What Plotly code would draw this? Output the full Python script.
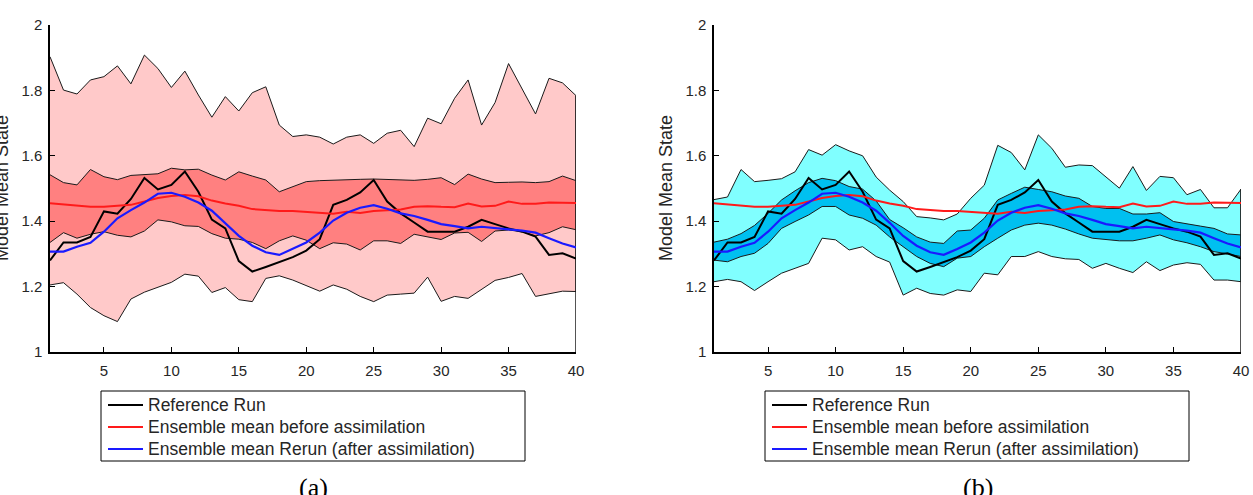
import plotly.graph_objects as go

W, H = 1253, 495

steps = list(range(1, 41))

# Shared series
reference_run = [1.280, 1.335, 1.335, 1.352, 1.430, 1.423, 1.468, 1.532, 1.497, 1.511,
                 1.552, 1.490, 1.405, 1.378, 1.278, 1.246, 1.260, 1.274, 1.290, 1.310,
                 1.345, 1.450, 1.465, 1.488, 1.526, 1.460, 1.424, 1.396, 1.368, 1.368,
                 1.368, 1.383, 1.404, 1.391, 1.378, 1.368, 1.353, 1.297, 1.302, 1.286]
mean_before = [1.455, 1.452, 1.447, 1.444, 1.444, 1.446, 1.450, 1.460, 1.471, 1.477,
               1.480, 1.476, 1.463, 1.454, 1.447, 1.437, 1.433, 1.431, 1.431, 1.429,
               1.425, 1.423, 1.429, 1.425, 1.431, 1.434, 1.436, 1.444, 1.446, 1.444,
               1.443, 1.454, 1.445, 1.447, 1.460, 1.453, 1.453, 1.457, 1.456, 1.456]
mean_rerun = [1.307, 1.307, 1.322, 1.334, 1.368, 1.409, 1.434, 1.457, 1.484, 1.487,
              1.475, 1.457, 1.432, 1.395, 1.355, 1.325, 1.305, 1.297, 1.315, 1.335,
              1.365, 1.402, 1.426, 1.441, 1.449, 1.438, 1.424, 1.416, 1.404, 1.391,
              1.385, 1.378, 1.383, 1.380, 1.375, 1.371, 1.365, 1.348, 1.332, 1.320]

# Panel (a): ensemble spread before assimilation
prior_max = [1.903, 1.801, 1.789, 1.832, 1.842, 1.875, 1.820, 1.908, 1.867, 1.809,
             1.859, 1.786, 1.718, 1.781, 1.737, 1.793, 1.811, 1.694, 1.659, 1.664,
             1.657, 1.636, 1.657, 1.664, 1.638, 1.669, 1.678, 1.628, 1.715, 1.698,
             1.776, 1.832, 1.694, 1.763, 1.882, 1.803, 1.728, 1.837, 1.823, 1.784]
prior_qhi = [1.542, 1.518, 1.511, 1.558, 1.536, 1.527, 1.540, 1.543, 1.545, 1.562,
             1.557, 1.559, 1.541, 1.526, 1.551, 1.538, 1.526, 1.490, 1.506, 1.521,
             1.524, 1.526, 1.526, 1.528, 1.529, 1.528, 1.527, 1.525, 1.528, 1.533,
             1.512, 1.544, 1.529, 1.518, 1.519, 1.520, 1.518, 1.521, 1.538, 1.524]
prior_qlo = [1.335, 1.365, 1.348, 1.360, 1.368, 1.357, 1.352, 1.370, 1.404, 1.398,
             1.386, 1.384, 1.362, 1.348, 1.345, 1.335, 1.316, 1.340, 1.355, 1.342,
             1.316, 1.334, 1.330, 1.312, 1.340, 1.340, 1.332, 1.360, 1.352, 1.344,
             1.364, 1.366, 1.338, 1.370, 1.373, 1.368, 1.355, 1.365, 1.383, 1.374]
prior_min = [1.205, 1.212, 1.177, 1.136, 1.111, 1.093, 1.162, 1.183, 1.199, 1.213,
             1.238, 1.232, 1.182, 1.197, 1.160, 1.154, 1.225, 1.233, 1.220, 1.202,
             1.186, 1.205, 1.192, 1.170, 1.154, 1.174, 1.177, 1.180, 1.229, 1.155,
             1.170, 1.164, 1.192, 1.219, 1.228, 1.240, 1.170, 1.178, 1.186, 1.185]

# Panel (b): ensemble spread of rerun after assimilation
post_max = [1.466, 1.474, 1.558, 1.521, 1.525, 1.530, 1.551, 1.619, 1.602, 1.634,
            1.615, 1.600, 1.535, 1.495, 1.460, 1.414, 1.410, 1.404, 1.422, 1.470,
            1.510, 1.632, 1.610, 1.557, 1.664, 1.623, 1.565, 1.572, 1.570, 1.535,
            1.501, 1.567, 1.494, 1.537, 1.533, 1.481, 1.497, 1.441, 1.441, 1.498]
post_qhi = [1.336, 1.345, 1.362, 1.387, 1.424, 1.465, 1.493, 1.518, 1.531, 1.524,
            1.506, 1.498, 1.462, 1.405, 1.380, 1.352, 1.336, 1.332, 1.370, 1.373,
            1.409, 1.465, 1.485, 1.504, 1.497, 1.490, 1.477, 1.470, 1.445, 1.439,
            1.439, 1.422, 1.422, 1.426, 1.399, 1.391, 1.385, 1.378, 1.361, 1.358]
post_qlo = [1.281, 1.276, 1.292, 1.302, 1.332, 1.378, 1.399, 1.419, 1.445, 1.445,
            1.419, 1.409, 1.388, 1.352, 1.322, 1.292, 1.271, 1.261, 1.287, 1.292,
            1.322, 1.348, 1.373, 1.388, 1.394, 1.388, 1.376, 1.361, 1.348, 1.345,
            1.340, 1.340, 1.348, 1.358, 1.343, 1.334, 1.322, 1.307, 1.300, 1.292]
post_min = [1.215, 1.222, 1.215, 1.188, 1.215, 1.241, 1.256, 1.271, 1.348, 1.343,
            1.312, 1.322, 1.292, 1.275, 1.174, 1.195, 1.179, 1.174, 1.190, 1.185,
            1.241, 1.236, 1.292, 1.292, 1.307, 1.292, 1.285, 1.283, 1.256, 1.271,
            1.256, 1.243, 1.276, 1.249, 1.266, 1.273, 1.268, 1.220, 1.220, 1.215]

x_ticks = [5, 10, 15, 20, 25, 30, 35, 40]
y_ticks = [1, 1.2, 1.4, 1.6, 1.8, 2]
y_tick_text = ["1", "1.2", "1.4", "1.6", "1.8", "2"]
y_min, y_max = 1, 2

legend_names = ["Reference Run", "Ensemble mean before assimilation",
                "Ensemble mean Rerun (after assimilation)"]
line_colors = ["#000000", "#ff1a1a", "#1a1aff"]

FONT = "Liberation Sans, Arial, sans-serif"
TXT = "#262626"


def pxx(p):
    return p / W


def pxy(p):
    return 1 - p / H


fig = go.Figure()

panels = [
    dict(xa="x", ya="y", dom=(50, 576),
         bands=[(prior_max, prior_min, "rgb(255,201,201)"),
                (prior_qhi, prior_qlo, "rgb(255,128,128)")],
         outer=prior_max, caption="(a)"),
    dict(xa="x2", ya="y2", dom=(714, 1241),
         bands=[(post_max, post_min, "rgb(128,255,255)"),
                (post_qhi, post_qlo, "rgb(0,192,240)")],
         outer=post_max, caption="(b)"),
]

for pn in panels:
    for hi, lo, col in pn["bands"]:
        fig.add_trace(go.Scatter(
            x=steps + steps[::-1], y=hi + lo[::-1], mode="lines", fill="toself",
            fillcolor=col, line=dict(color="#1a1a1a", width=1),
            xaxis=pn["xa"], yaxis=pn["ya"], showlegend=False, hoverinfo="skip"))
    # right-edge line of the area at the last step
    fig.add_trace(go.Scatter(
        x=[steps[-1], steps[-1]], y=[pn["outer"][-1], y_min], mode="lines",
        line=dict(color="#1a1a1a", width=1.5), xaxis=pn["xa"], yaxis=pn["ya"],
        showlegend=False, hoverinfo="skip"))
    for series, col, name, w in zip([reference_run, mean_before, mean_rerun],
                                    line_colors, legend_names, [2, 2, 2.2]):
        fig.add_trace(go.Scatter(
            x=steps, y=series, mode="lines", line=dict(color=col, width=w),
            name=name, xaxis=pn["xa"], yaxis=pn["ya"], showlegend=False))

axis_common = dict(showgrid=False, zeroline=False, showline=True, linecolor="#000000",
                   linewidth=1.5, ticks="inside", ticklen=5, tickcolor="#000000",
                   tickwidth=1, automargin=False,
                   tickfont=dict(family=FONT, size=15, color=TXT))

y_dom = [pxy(352), pxy(25)]
fig.update_layout(
    template="none",
    width=W, height=H, margin=dict(l=0, r=0, t=0, b=0, pad=0),
    paper_bgcolor="white", plot_bgcolor="white", showlegend=False,
    xaxis=dict(domain=[pxx(50), pxx(576)], range=[1, 40], tickvals=x_ticks,
               anchor="y", ticklabelstandoff=4, **axis_common),
    yaxis=dict(domain=y_dom, range=[y_min, y_max], tickvals=y_ticks, ticktext=y_tick_text,
               anchor="x", ticklabelstandoff=3, **axis_common),
    xaxis2=dict(domain=[pxx(714), pxx(1241)], range=[1, 40], tickvals=x_ticks,
                anchor="y2", ticklabelstandoff=4, **axis_common),
    yaxis2=dict(domain=y_dom, range=[y_min, y_max], tickvals=y_ticks, ticktext=y_tick_text,
                anchor="x2", ticklabelstandoff=3, **axis_common),
)

shapes = []
annotations = []
for pn in panels:
    left, right = pn["dom"]
    off = left - 50
    # y-axis title (clipped at the figure edge in panel (a), as in the original)
    annotations.append(dict(text="Model Mean State", textangle=-90, x=pxx(left - 48),
                            y=pxy(188), xref="paper", yref="paper", showarrow=False,
                            xanchor="center", yanchor="middle",
                            font=dict(family=FONT, size=18, color=TXT)))
    # legend box
    bx0, bx1, by0, by1 = 101 + off, 525 + off, 391, 461
    shapes.append(dict(type="rect", xref="paper", yref="paper",
                       x0=pxx(bx0), x1=pxx(bx1), y0=pxy(by1), y1=pxy(by0),
                       line=dict(color="#000000", width=1), fillcolor="white"))
    for i, (name, col) in enumerate(zip(legend_names, line_colors)):
        yy = 405 + i * 22
        shapes.append(dict(type="line", xref="paper", yref="paper",
                           x0=pxx(108 + off), x1=pxx(143 + off), y0=pxy(yy), y1=pxy(yy),
                           line=dict(color=col, width=2)))
        annotations.append(dict(text=name, x=pxx(146 + off), y=pxy(yy), xref="paper",
                                yref="paper", showarrow=False, xanchor="left",
                                yanchor="middle",
                                font=dict(family=FONT, size=17.5, color=TXT)))
    # caption
    annotations.append(dict(text=pn["caption"], x=pxx((left + right) / 2), y=pxy(487),
                            xref="paper", yref="paper", showarrow=False,
                            xanchor="center", yanchor="middle",
                            font=dict(family="Liberation Serif, serif", size=26,
                                      color="#000000")))

fig.update_layout(shapes=shapes, annotations=annotations)
fig.write_html("out.html")
